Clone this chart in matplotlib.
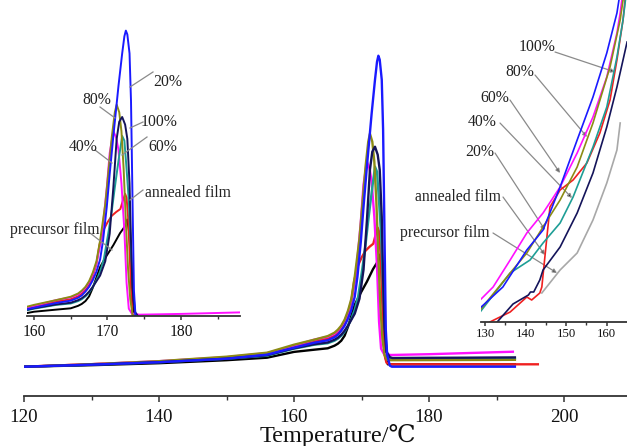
import matplotlib
matplotlib.use('Agg')
import matplotlib.pyplot as plt
from matplotlib.ticker import MultipleLocator

# ---------------- data (main plot and left inset share the same curves) -------------
labels = ['precursor film', 'annealed film', '40%', '60%', '80%', '100%', '20%']
colors = ['#000000', '#f02020', '#ff10ff', '#1e9e96', '#8c8c14', '#14145a', '#1a1aff']

temps_precursor = [120, 130, 140, 150, 156, 160, 163, 165, 166, 166.5, 167, 167.5, 168, 168.5, 169.0,
                   169.9, 170.8, 171.7, 172.3, 172.7, 173.0, 173.2, 173.4, 173.6, 173.9, 180, 185, 190, 192.9]
heat_precursor = [0, 1.5, 3.5, 6.5, 9, 14.8, 17, 18.4, 21, 23, 26, 31, 40, 51, 62,
                  74, 85, 97.5, 104, 112, 95, 60, 25, 8, 2.4, 2.4, 2.4, 2.4, 2.4]

temps_annealed = [120, 130, 140, 150, 156, 160, 163, 165, 166, 166.5, 167, 167.5, 168, 168.5, 168.9,
                  169.4, 170.0, 170.6, 171.2, 171.75, 172.1, 172.4, 172.6, 172.8, 173.0, 173.2, 173.4,
                  173.7, 174.2, 180, 185, 190, 196.3]
heat_annealed = [0, 2.5, 5, 9, 13, 20, 25.5, 28, 31, 34, 38, 44, 52, 65, 85,
                 100, 109, 116, 120, 123, 132, 139, 135, 115, 80, 40, 12,
                 4, 2.4, 2.4, 2.4, 2.4, 2.4]

temps_40 = [120, 130, 140, 150, 156, 160, 163, 165, 166, 166.5, 167, 167.5, 168, 168.5, 169.2,
            169.9, 170.3, 170.8, 171.2, 171.5, 171.9, 172.3, 172.6, 172.9, 173.3, 173.8, 174.3,
            180, 185, 190, 192.6]
heat_40 = [0, 2.5, 5.5, 9.5, 13.5, 21, 27, 30, 33, 36, 40, 46, 54, 66, 92,
           145, 182, 205, 198, 185, 150, 100, 45, 18, 13, 12.5, 11.7,
           12.5, 13.5, 14.5, 15]

temps_60 = [120, 130, 140, 150, 156, 160, 163, 165, 166, 166.5, 167, 167.5, 168, 168.5, 169,
            169.5, 170.1, 170.6, 171.0, 171.5, 172.0, 172.3, 172.6, 172.9, 173.2, 173.5, 173.8,
            174.2, 174.5, 180, 185, 190, 192.9]
heat_60 = [0, 2, 4.5, 8, 11, 18, 22, 23.5, 26, 28, 31, 35, 41, 48, 57,
           70, 97, 122, 146, 174, 200, 195, 165, 132, 80, 35, 12,
           8, 7.5, 7.6, 7.7, 7.8, 7.9]

temps_80 = [120, 130, 140, 150, 156, 160, 163, 165, 166, 166.5, 167, 167.5, 168, 168.5, 169.0,
            169.7, 170.1, 170.6, 171.0, 171.25, 171.6, 171.9, 172.2, 172.5, 172.8, 173.1, 173.4,
            173.8, 174.2, 180, 185, 190, 192.9]
heat_80 = [0, 2.5, 5.5, 10, 14, 22, 27, 30.6, 34, 37, 41, 47, 56, 68, 90,
           128, 160, 200, 225, 233, 225, 205, 165, 110, 60, 28, 12,
           7, 6.5, 6.6, 6.7, 6.8, 6.9]

temps_100 = [120, 130, 140, 150, 156, 160, 163, 165, 166, 166.5, 167, 167.5, 168, 168.5, 169,
             169.7, 170.3, 170.8, 171.25, 171.6, 172.0, 172.4, 172.7, 173.0, 173.2, 173.4, 173.7,
             174.2, 174.6, 180, 185, 190, 192.9]
heat_100 = [0, 2, 4.5, 8, 11.5, 18.5, 22.5, 24.3, 27, 29, 32, 36, 41, 47, 53,
            68, 97, 146, 197, 215, 220, 212, 197, 150, 90, 40, 15,
            9.5, 8.7, 8.9, 9.0, 9.2, 9.3]

temps_20 = [120, 130, 140, 150, 156, 160, 163, 165, 166, 166.5, 167, 167.5, 168, 168.5, 169,
            169.4, 169.9, 170.3, 170.8, 171.5, 172.0, 172.3, 172.5, 172.7, 173.0, 173.2, 173.3,
            173.45, 173.6, 173.8, 174.2, 174.5, 180, 185, 190, 192.9]
heat_20 = [0, 2, 4.5, 8, 12, 19, 24, 26.5, 29.5, 32, 36, 41, 48, 57, 70,
           90, 125, 160, 200, 253, 287, 305, 311, 307, 287, 237, 187,
           110, 37, 12, 1, 0, 0, 0, 0, 0]

main_temps = [temps_precursor, temps_annealed, temps_40, temps_60, temps_80, temps_100, temps_20]
main_heats = [heat_precursor, heat_annealed, heat_40, heat_60, heat_80, heat_100, heat_20]

# ---------------- right inset (130-163 C, strongly magnified onset region) -------------
zoom_temps_gray = [144.0, 148.5, 152.7, 156.6, 160.0, 162.5, 163.3]
zoom_heat_gray = [29, 52, 69, 102, 139, 172, 199]
zoom_temps_annealed = [131.2, 136.2, 140.3, 141.5, 143.5, 144.0, 146.0, 148.5, 151.7, 155.1, 158.3, 160.8, 162.5, 164.0, 164.5]
zoom_heat_annealed = [0, 10, 25, 22, 29, 35, 115, 132, 142, 159, 189, 222, 262, 302, 322]
zoom_temps_40 = [128.8, 132.0, 136.2, 140.3, 144.3, 148.5, 152.7, 156.6, 160.0, 162.5, 163.3, 163.7]
zoom_heat_40 = [22, 35, 62, 89, 109, 135, 169, 205, 245, 289, 309, 322]
zoom_temps_60 = [128.8, 136.2, 141.1, 144.3, 148.5, 151.7, 156.6, 160.0, 162.5, 164.0, 164.6]
zoom_heat_60 = [10, 49, 62, 79, 99, 125, 175, 215, 265, 302, 322]
zoom_temps_80 = [128.8, 136.2, 140.3, 144.3, 148.5, 152.7, 156.6, 160.8, 163.3, 164.0]
zoom_heat_80 = [12, 49, 69, 95, 122, 155, 199, 255, 302, 322]
zoom_temps_100 = [133.0, 136.9, 140.7, 141.2, 142.0, 143.5, 144.3, 148.5, 152.7, 156.6, 160.0, 162.5, 164.0, 165.0]
zoom_heat_100 = [0, 18, 27, 30, 30, 42, 52, 75, 109, 149, 195, 235, 262, 280]
zoom_temps_20 = [128.8, 134.4, 140.3, 144.3, 148.5, 152.7, 156.6, 160.0, 162.5, 163.0]
zoom_heat_20 = [14, 35, 72, 92, 135, 182, 225, 269, 309, 322]

zoom_temps = [zoom_temps_gray, zoom_temps_annealed, zoom_temps_40, zoom_temps_60,
              zoom_temps_80, zoom_temps_100, zoom_temps_20]
zoom_heats = [zoom_heat_gray, zoom_heat_annealed, zoom_heat_40, zoom_heat_60,
              zoom_heat_80, zoom_heat_100, zoom_heat_20]
zoom_colors = ['#a8a8a8', '#f02020', '#ff10ff', '#1e9e96', '#8c8c14', '#14145a', '#1a1aff']

# ---------------- annotation labels -------------
left_texts = ['20%', '80%', '100%', '60%', '40%', 'annealed film', 'precursor film']
right_texts = ['100%', '80%', '60%', '40%', '20%', 'annealed film', 'precursor film']

# ---------------- figure -------------
W, H = 627, 446
SERIF = ['Liberation Serif', 'DejaVu Serif']
plt.rcParams['font.family'] = SERIF
fig = plt.figure(figsize=(W / 100, H / 100), dpi=100)
fig.patch.set_facecolor('white')


def fp(x, y):
    return (x / W, 1 - y / H)


def style_axis(ax, major, minor, size, mlen, pad):
    for s in ('left', 'right', 'top'):
        ax.spines[s].set_visible(False)
    ax.spines['bottom'].set_color('#333333')
    ax.spines['bottom'].set_linewidth(1.3)
    ax.set_yticks([])
    ax.patch.set_alpha(0)
    ax.xaxis.set_major_locator(MultipleLocator(major))
    ax.xaxis.set_minor_locator(MultipleLocator(minor))
    ax.tick_params(axis='x', which='major', length=mlen, width=1.1, pad=pad,
                   labelsize=size, direction='out', color='#333333', labelcolor='#111111')
    ax.tick_params(axis='x', which='minor', length=mlen * 0.65, width=1.0,
                   direction='out', color='#333333')


# main axes
ax = fig.add_axes([24 / W, 50 / H, 603 / W, 396 / H])
for T, v, c in zip(main_temps, main_heats, colors):
    ax.plot(T, v, color=c, lw=1.7, solid_joinstyle='round', solid_capstyle='butt')
ax.set_xlim(120, 120 + 603 / 6.75)
ax.set_ylim(-29.3, 366.7)
style_axis(ax, 20, 10, 13.6, 4.3, 5.0)
ax.set_xlabel('Temperature/\u2103', fontsize=17.5, family=SERIF + ['DejaVu Sans'], color='#111111')
ax.xaxis.label.set_va('baseline')
ax.xaxis.set_label_coords(0.521, -0.116)

# left inset
axl = fig.add_axes([27 / W, 130 / H, 213 / W, 296 / H])
for T, v, c in zip(main_temps, main_heats, colors):
    axl.plot(T, v, color=c, lw=1.4, solid_joinstyle='round')
axl.set_xlim(159.05, 188.03)
axl.set_ylim(10.3, 322.2)
style_axis(axl, 10, 5, 11.2, 3.0, 3.0)

# right inset
axr = fig.add_axes([480.7 / W, 124 / H, 146.3 / W, 322 / H])
for T, v, c in zip(zoom_temps, zoom_heats, zoom_colors):
    axr.plot(T, v, color=c, lw=1.2, solid_joinstyle='round')
axr.set_xlim(128.94, 164.98)
axr.set_ylim(0, 322)
style_axis(axr, 10, 5, 9.2, 2.8, 1.6)

# left inset annotations
left_text_pos = [(168, 82), (97, 100), (159, 122), (163, 147), (83, 147), (188, 193), (55, 230)]
left_lines = [((153, 72), (130, 87)), ((100, 107), (115, 118)), ((143, 122), (130, 128)),
              ((147, 137), (122, 155)), ((95, 150), (112, 163)), ((143, 190), (130, 200)),
              ((90, 233), (112, 250))]
for t, p, (a, b) in zip(left_texts, left_text_pos, left_lines):
    fig.text(*fp(*p), t, ha='center', va='center', fontsize=11.3, color='#222222')
    fig.add_artist(plt.Line2D([a[0] / W, b[0] / W], [1 - a[1] / H, 1 - b[1] / H],
                              transform=fig.transFigure, color='#8a8a8a', lw=0.9))

# right inset annotations
right_text_pos = [(537, 47), (520, 72), (495, 98), (482, 122), (480, 152), (458, 197), (445, 233)]
right_lines = [((555, 52), (615, 72)), ((535, 75), (587, 137)), ((510, 100), (560, 173)),
               ((500, 123), (572, 198)), ((495, 153), (545, 230)), ((503, 197), (545, 255)),
               ((493, 233), (557, 273))]
for t, p, (a, b) in zip(right_texts, right_text_pos, right_lines):
    fig.text(*fp(*p), t, ha='center', va='center', fontsize=11.3, color='#222222')
    ax.annotate('', xy=fp(*b), xytext=fp(*a), xycoords='figure fraction',
                textcoords='figure fraction', annotation_clip=False,
                arrowprops=dict(arrowstyle='-|>', ec='#8a8a8a', fc='black', lw=0.9,
                                mutation_scale=6, shrinkA=0, shrinkB=0))

fig.savefig('out.png', dpi=100, facecolor='white')
